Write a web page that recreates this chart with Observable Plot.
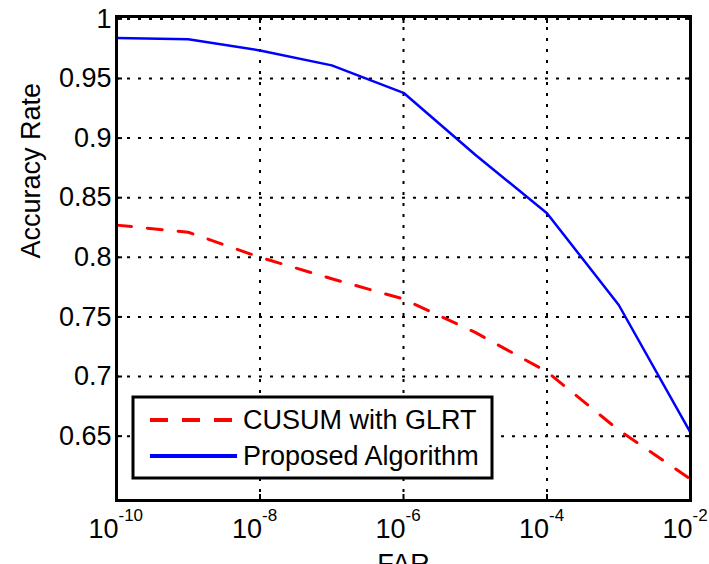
<!DOCTYPE html>
<html>
<head>
<meta charset="utf-8">
<script src="https://cdn.jsdelivr.net/npm/d3@7"></script>
<script src="https://cdn.jsdelivr.net/npm/@observablehq/plot@0.6"></script>
<style>
  html, body { margin: 0; padding: 0; background: #fff; overflow: hidden; }
  #chart { width: 709px; height: 564px; }
</style>
</head>
<body>
<div id="chart"></div>
<script>
// ---- data ----
const far = [1e-10, 1e-9, 1e-8, 1e-7, 1e-6, 1e-5, 1e-4, 1e-3, 1e-2];
const cusum = [0.827, 0.821, 0.800, 0.782, 0.765, 0.737, 0.704, 0.655, 0.614];
const proposed = [0.984, 0.983, 0.9735, 0.961, 0.938, 0.886, 0.837, 0.760, 0.653];
const seriesNames = ["CUSUM with GLRT", "Proposed Algorithm"];
const xTicks = [1e-10, 1e-8, 1e-6, 1e-4, 1e-2];
const yTicks = [0.65, 0.7, 0.75, 0.8, 0.85, 0.9, 0.95, 1];
const xLabel = "FAR";
const yLabel = "Accuracy Rate";

const rows = [];
far.forEach((f, i) => {
  rows.push({far: f, acc: cusum[i], series: seriesNames[0]});
  rows.push({far: f, acc: proposed[i], series: seriesNames[1]});
});

const font = "'Liberation Sans', Arial, Helvetica, sans-serif";
const gridStyle = {stroke: "black", strokeOpacity: 1, strokeWidth: 2, strokeDasharray: "3,8"};
const tickStyle = {tickFormat: () => "", strokeWidth: 2, label: null};

const plot = Plot.plot({
  width: 709,
  height: 564,
  marginLeft: 116,
  marginRight: 19,
  marginTop: 16,
  marginBottom: 64,
  style: {fontFamily: font, fontSize: "27px", color: "black", background: "white", overflow: "hidden"},
  x: {type: "log", domain: [1e-10, 1e-2], label: null},
  y: {domain: [0.596, 1.002], label: null},
  marks: [
    Plot.gridX(xTicks, gridStyle),
    Plot.gridY(yTicks, gridStyle),
    // inward ticks on all four sides
    Plot.axisX(xTicks, {anchor: "bottom", tickSize: -6, ...tickStyle}),
    Plot.axisX(xTicks, {anchor: "top", tickSize: -6, ...tickStyle}),
    Plot.axisY(yTicks, {anchor: "right", tickSize: -6, ...tickStyle}),
    Plot.axisY(yTicks, {anchor: "left", tickSize: -6, ...tickStyle}),
    // y tick labels
    Plot.axisY(yTicks, {anchor: "left", tickSize: 0, tickPadding: 5, tickFormat: d3.format(""), fontSize: 27, label: null}),
    // x tick labels: base and exponent
    Plot.text(xTicks, {x: d => d, frameAnchor: "bottom", text: () => "10", textAnchor: "end", lineAnchor: "middle", dx: 2, dy: 29, fontSize: 27, fill: "black"}),
    Plot.text(xTicks, {x: d => d, frameAnchor: "bottom", text: d => "-" + Math.round(-Math.log10(d)), textAnchor: "start", lineAnchor: "middle", dx: 2, dy: 15, fontSize: 17, fill: "black"}),
    // axis titles
    Plot.text([xLabel], {frameAnchor: "bottom", text: d => d, lineAnchor: "middle", dy: 64, fontSize: 27, fill: "black"}),
    Plot.text([yLabel], {frameAnchor: "left", text: d => d, rotate: -90, lineAnchor: "middle", dx: -85, fontSize: 27, fill: "black"}),
    // data
    Plot.line(rows.filter(d => d.series === seriesNames[0]), {x: "far", y: "acc", stroke: "#ff0000", strokeWidth: 3, strokeDasharray: "15,16"}),
    Plot.line(rows.filter(d => d.series === seriesNames[1]), {x: "far", y: "acc", stroke: "#0000ff", strokeWidth: 2.5}),
    Plot.frame({stroke: "black", strokeWidth: 3})
  ]
});

document.getElementById("chart").appendChild(plot);

// legend box inside the plot area
const svg = d3.select(plot);
const lg = svg.append("g").attr("font-family", font).attr("font-size", 27).attr("text-anchor", "start");
lg.append("rect").attr("x", 133).attr("y", 397).attr("width", 359).attr("height", 81)
  .attr("fill", "white").attr("stroke", "black").attr("stroke-width", 3);
const legendItems = [
  {name: seriesNames[0], color: "#ff0000", dash: "18,14", width: 4, y: 420},
  {name: seriesNames[1], color: "#0000ff", dash: null, width: 4, y: 456}
];
legendItems.forEach(it => {
  const l = lg.append("line").attr("x1", 150).attr("x2", 237).attr("y1", it.y).attr("y2", it.y)
    .attr("stroke", it.color).attr("stroke-width", it.width);
  if (it.dash) l.attr("stroke-dasharray", it.dash);
  lg.append("text").attr("x", 243).attr("y", it.y).attr("dy", "0.35em").attr("fill", "black")
    .attr("text-anchor", "start").text(it.name);
});
</script>
</body>
</html>
